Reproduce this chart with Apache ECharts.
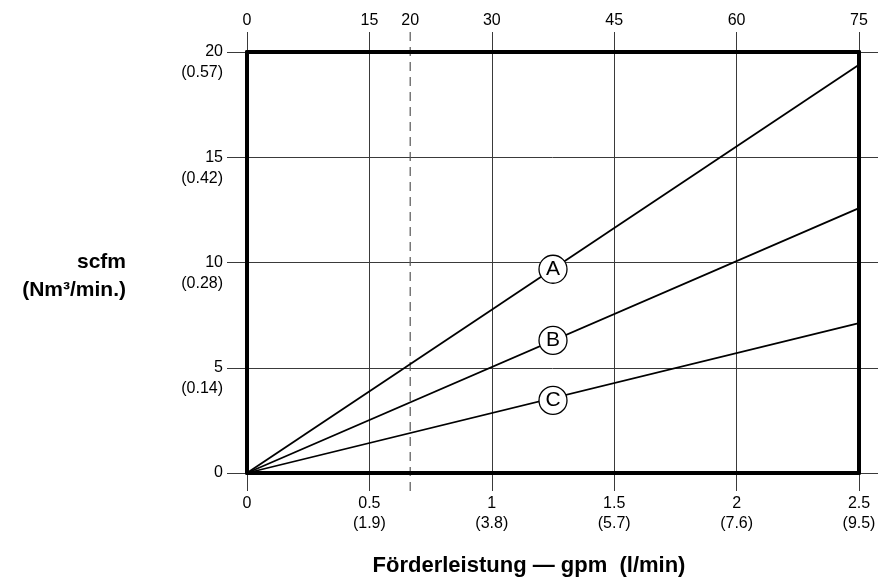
<!DOCTYPE html>
<html>
<head>
<meta charset="utf-8">
<script src="https://cdn.jsdelivr.net/npm/echarts@6/dist/echarts.min.js"></script>
<style>html,body{margin:0;padding:0;background:#fff}#c{width:889px;height:585px}</style>
</head>
<body>
<div id="c"></div>
<script>
// ---- data ----
const gpmTicks = [0, 0.5, 1, 1.5, 2, 2.5];
const lpmTicks = ['', '1.9', '3.8', '5.7', '7.6', '9.5'];
const topTicks = [0, 15, 20, 30, 45, 60, 75];
const topMax = 75;
const gpmMax = 2.5;
const dashedAtTop = 20;
const scfmTicks = [0, 5, 10, 15, 20];
const nmTicks = ['', '0.14', '0.28', '0.42', '0.57'];
const lineNames = ['A', 'B', 'C'];
const lineEndX = [2.5, 2.5, 2.5];
const lineEndY = [19.4, 12.58, 7.12];
const markerX = [1.25, 1.25, 1.25];
const markerY = [9.68, 6.3, 3.45];
const yTitle = 'scfm\n(Nm³/min.)';
const xTitle = 'Förderleistung — gpm  (l/min)';

const FONT = "'Liberation Sans', Arial, sans-serif";
const GRID = '#3a3a3a';
const TXT = '#000';

const chart = echarts.init(document.getElementById('c'), null, {renderer: 'canvas'});

const lineSeries = lineNames.map((n, i) => ({
  type: 'line', name: n, xAxisIndex: 0, yAxisIndex: 0,
  data: [[0, 0], [lineEndX[i], lineEndY[i]]],
  symbol: 'none', lineStyle: {color: '#000', width: 1.8}, z: 3, silent: true
}));

const option = {
  animation: false,
  backgroundColor: '#fff',
  textStyle: {fontFamily: FONT},
  grid: [
    {left: 247, right: 30, top: 52, bottom: 112},
    {left: 247, right: 30, top: 32, bottom: 94},
    {left: 227, right: 11, top: 52, bottom: 112}
  ],
  xAxis: [
    {
      type: 'value', gridIndex: 0, position: 'bottom', min: 0, max: gpmMax, interval: 0.5, z: 10,
      axisLine: {show: true, onZero: false, lineStyle: {color: '#000', width: 4}},
      axisTick: {show: false}, splitLine: {show: false},
      axisLabel: {
        margin: 21, color: TXT, fontSize: 16, lineHeight: 20, fontFamily: FONT,
        formatter: v => {
          const i = gpmTicks.findIndex(t => Math.abs(t - v) < 1e-6);
          if (i < 0) return '';
          return lpmTicks[i] ? gpmTicks[i] + '\n(' + lpmTicks[i] + ')' : String(gpmTicks[i]);
        }
      }
    },
    {
      type: 'value', gridIndex: 0, position: 'top', min: 0, max: topMax, z: 10,
      axisLine: {show: true, onZero: false, lineStyle: {color: '#000', width: 4}},
      axisTick: {show: false}, splitLine: {show: false},
      axisLabel: {margin: 23, color: TXT, fontSize: 16, fontFamily: FONT, customValues: topTicks}
    },
    {
      type: 'value', gridIndex: 1, min: 0, max: gpmMax, interval: 0.5, z: 0,
      axisLine: {show: false}, axisTick: {show: false}, axisLabel: {show: false},
      splitLine: {show: true, lineStyle: {color: GRID, width: 1}}
    },
    {
      type: 'value', gridIndex: 2, min: 0, max: 1, show: false
    }
  ],
  yAxis: [
    {
      type: 'value', gridIndex: 0, position: 'left', min: 0, max: 20, interval: 5, z: 10,
      axisLine: {show: true, onZero: false, lineStyle: {color: '#000', width: 4}},
      axisTick: {show: false}, splitLine: {show: false},
      axisLabel: {
        margin: 24, color: TXT, fontSize: 16, lineHeight: 21, fontFamily: FONT, align: 'right', verticalAlign: 'middle',
        formatter: v => {
          const i = scfmTicks.findIndex(t => Math.abs(t - v) < 1e-6);
          if (i < 0) return '';
          return nmTicks[i] ? '\n' + scfmTicks[i] + '\n(' + nmTicks[i] + ')' : String(scfmTicks[i]);
        }
      }
    },
    {
      type: 'value', gridIndex: 0, position: 'right', min: 0, max: 20, interval: 5, z: 10,
      axisLine: {show: true, onZero: false, lineStyle: {color: '#000', width: 4}},
      axisTick: {show: false}, splitLine: {show: false}, axisLabel: {show: false}
    },
    {
      type: 'value', gridIndex: 1, min: 0, max: 1, show: false
    },
    {
      type: 'value', gridIndex: 2, min: 0, max: 20, interval: 5, z: 0,
      axisLine: {show: false}, axisTick: {show: false}, axisLabel: {show: false},
      splitLine: {show: true, lineStyle: {color: GRID, width: 1}}
    }
  ],
  series: [
    {
      type: 'line', xAxisIndex: 3, yAxisIndex: 3, data: [], symbol: 'none'
    },
    {
      type: 'line', xAxisIndex: 2, yAxisIndex: 2, silent: true, symbol: 'none', z: 1,
      data: [[dashedAtTop / topMax * gpmMax, 0], [dashedAtTop / topMax * gpmMax, 1]],
      lineStyle: {color: '#555', width: 1.2, type: [9, 6]}
    },
    ...lineSeries,
    {
      type: 'scatter', xAxisIndex: 0, yAxisIndex: 0, z: 5, silent: true,
      symbol: 'circle', symbolSize: 28,
      data: lineNames.map((n, i) => ({value: [markerX[i], markerY[i]], name: n})),
      itemStyle: {color: '#fff', borderColor: '#000', borderWidth: 1.3, opacity: 1},
      label: {show: true, position: 'inside', formatter: p => p.name, color: '#000', fontSize: 21, fontFamily: FONT}
    }
  ],
  graphic: [
    {
      type: 'text', x: 126, y: 276, z: 20,
      style: {text: yTitle, font: 'bold 21px ' + FONT, fill: '#000', align: 'right', verticalAlign: 'middle', lineHeight: 28}
    },
    {
      type: 'text', x: 529, y: 566, z: 20,
      style: {text: xTitle, font: 'bold 22px ' + FONT, fill: '#000', align: 'center', verticalAlign: 'middle'}
    }
  ]
};
chart.setOption(option);
</script>
</body>
</html>
